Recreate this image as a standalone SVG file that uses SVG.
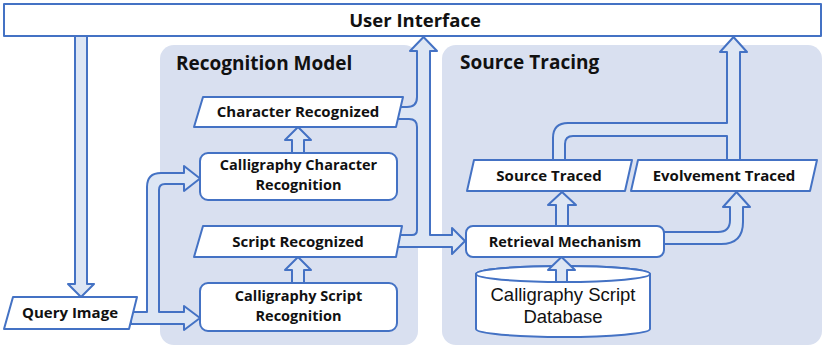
<svg xmlns="http://www.w3.org/2000/svg" width="824" height="348" viewBox="0 0 824 348">
<style>
.panel{fill:#d9e0f0;stroke:none}
.box{fill:#ffffff;stroke:#4472c4;stroke-width:2;stroke-linejoin:round}
.arr{fill:#dde6f4;stroke:#4472c4;stroke-width:2;stroke-linejoin:round}
.t{font-family:"Open Sans","Noto Sans","Liberation Sans",sans-serif;font-weight:700;fill:#111111;text-anchor:middle}
.title{font-family:"Open Sans","Noto Sans","Liberation Sans",sans-serif;font-weight:700;fill:#111111;font-size:19px}
.tr{font-family:"Liberation Sans",Arial,sans-serif;font-weight:400;fill:#111111;text-anchor:middle;font-size:18.5px}
</style>
<rect width="824" height="348" fill="#ffffff"/>
<g id="panel-recognition">
<rect class="panel" x="160" y="45" width="258" height="300" rx="14"/>
<text class="title" x="176" y="70">Recognition Model</text>
</g>
<g id="panel-source">
<rect class="panel" x="442" y="45" width="380" height="300" rx="14"/>
<text class="title" x="460" y="69">Source Tracing</text>
</g>
<g id="database">
<path class="box" d="M476 274 V329 A87 8 0 0 0 650 329 V274 A87 8 0 0 0 476 274 Z"/>
<ellipse class="box" cx="563" cy="274" rx="87" ry="8"/>
<text class="tr" x="563" y="301">Calligraphy Script</text>
<text class="tr" x="563" y="323">Database</text>
</g>
<g id="connectors">
<path class="arr" d="M75 35 V284 H68 L81 297 L94 284 H87 V35 Z"/>
<path class="arr" d="M131 312 H147 V187 Q147 173 161 173 H184 V166 L200 178.5 L184 191 V184 H165 Q159 184 159 190 V312 H184 V306 L200 318 L184 330 V324 H131 Z"/>
<path class="arr" d="M398 107 H407 Q417 107 417 97 V51 H410 L423.5 37 L437 51 H430 V235 H452 V228 L465 241 L452 254 V247 H398 V235 H412 Q417 235 417 230 V127 Q417 119 409 119 H398 Z"/>
<path class="arr" d="M553 163 V138 Q553 123 568 123 H727 V52 H720 L733.5 37 L747 52 H740 V163 H727 V136 H573 Q565 136 565 144 V163 Z"/>
<path class="arr" d="M556 228 V205 H548 L562 192 L576 205 H568 V228 Z"/>
<path class="arr" d="M662 232 H718 Q730 232 730 220 V207 H723 L736.5 192 L750 207 H743 V222 Q743 244 721 244 H662 Z"/>
<path class="arr" d="M556 282 V270 H548 L561.5 257 L575 270 H567 V282 Z"/>
<path class="arr" d="M292 155 V140 H285 L298 127 L311 140 H304 V155 Z"/>
<path class="arr" d="M292 285 V270 H285 L298 257 L311 270 H304 V285 Z"/>
</g>
<g id="user-interface">
<rect class="box" x="4" y="4" width="817" height="32"/>
<text class="t" x="415" y="27" font-size="18.5">User Interface</text>
</g>
<g id="query-image">
<polygon class="box" points="13,297 137,297 129,329 4,329"/>
<text class="t" x="70" y="318" font-size="15">Query Image</text>
</g>
<g id="character-recognized">
<polygon class="box" points="203,97 403,97 396,127 194,127"/>
<text class="t" x="298" y="117" font-size="15">Character Recognized</text>
</g>
<g id="calligraphy-character-recognition">
<rect class="box" x="200" y="153" width="197" height="47" rx="8"/>
<text class="t" x="298.5" y="170" font-size="14.5">Calligraphy Character</text>
<text class="t" x="298.5" y="190" font-size="14.5">Recognition</text>
</g>
<g id="script-recognized">
<polygon class="box" points="203,226 402,226 396,257 194,257"/>
<text class="t" x="298" y="247" font-size="15">Script Recognized</text>
</g>
<g id="calligraphy-script-recognition">
<rect class="box" x="200" y="283" width="197" height="48" rx="8"/>
<text class="t" x="298.5" y="300.5" font-size="14.5">Calligraphy Script</text>
<text class="t" x="298.5" y="320.5" font-size="14.5">Recognition</text>
</g>
<g id="source-traced">
<polygon class="box" points="474,160 632,160 625,191 467,191"/>
<text class="t" x="549" y="181" font-size="15">Source Traced</text>
</g>
<g id="evolvement-traced">
<polygon class="box" points="638,160 817,160 810,191 631,191"/>
<text class="t" x="724" y="181" font-size="15">Evolvement Traced</text>
</g>
<g id="retrieval-mechanism">
<rect class="box" x="466" y="226" width="198" height="31" rx="7"/>
<text class="t" x="565" y="247" font-size="14.5">Retrieval Mechanism</text>
</g>
</svg>
